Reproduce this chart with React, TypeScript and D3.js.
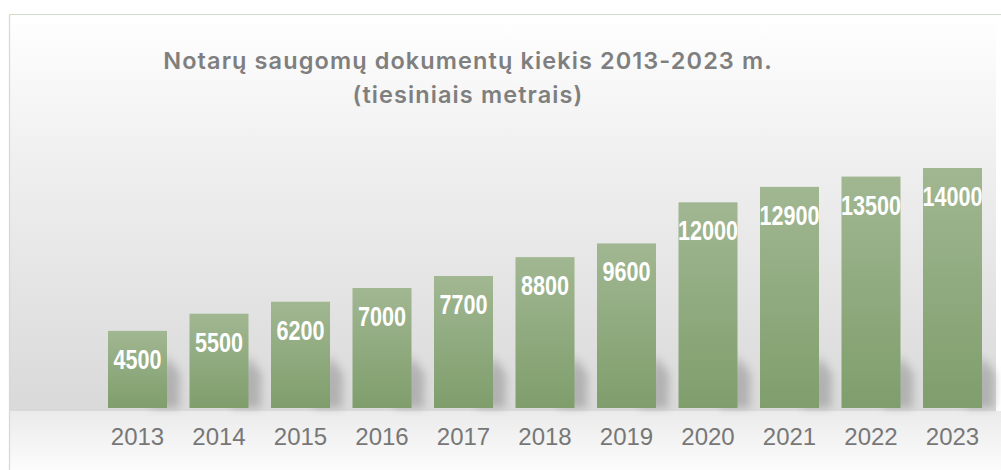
import React from "react";
import * as d3 from "d3";

const years = ["2013", "2014", "2015", "2016", "2017", "2018", "2019", "2020", "2021", "2022", "2023"];
const values = [4500, 5500, 6200, 7000, 7700, 8800, 9600, 12000, 12900, 13500, 14000];
const titleLines = ["Notarų saugomų dokumentų kiekis 2013-2023 m.", "(tiesiniais metrais)"];

const W = 1001;
const H = 470;

export default function App() {
  const x = d3.scaleBand<string>().domain(years).range([85.5, 1004.5]).padding(0.276);
  const y = d3.scaleLinear().domain([0, 14000]).range([408, 168]);
  const bw = x.bandwidth();
  const y0 = y(0);

  return (
    <svg width={W} height={H} style={{ position: "absolute", left: 0, top: 0 }}>
      <defs>
        <linearGradient id="bg" x1="0" y1="0" x2="0" y2="1">
          <stop offset="0" stopColor="#ffffff" />
          <stop offset="0.35" stopColor="#f0f0f0" />
          <stop offset="1" stopColor="#d9d9d9" />
        </linearGradient>
        <linearGradient id="floor" x1="0" y1="0" x2="0" y2="1">
          <stop offset="0" stopColor="#ebebeb" />
          <stop offset="1" stopColor="#fcfcfc" />
        </linearGradient>
        <linearGradient id="bar" x1="0" y1="0" x2="0" y2="1">
          <stop offset="0" stopColor="#a1b792" />
          <stop offset="1" stopColor="#7f9e6c" />
        </linearGradient>
        <filter id="blur" x="-50%" y="-50%" width="200%" height="200%">
          <feGaussianBlur stdDeviation="4" />
        </filter>
      </defs>
      <rect x={0} y={0} width={W} height={H} fill="#ffffff" />
      <rect x={10} y={15} width={986} height={y0 + 3 - 15} fill="url(#bg)" />
      <rect x={10} y={y0 + 3} width={991} height={H - y0 - 3} fill="url(#floor)" />
      <line x1={9.5} y1={14.5} x2={W} y2={14.5} stroke="#d3dbc9" strokeWidth={1.2} />
      <line x1={9.5} y1={14.5} x2={9.5} y2={H} stroke="#d3dbc9" strokeWidth={1.2} />

      <g fill="#7f7f7f" fontFamily="Inter, 'Noto Sans', sans-serif" fontWeight={600} fontSize={23.5} letterSpacing={1.1} textAnchor="middle">
        <text x={468} y={68.5}>{titleLines[0]}</text>
        <text x={468} y={103}>{titleLines[1]}</text>
      </g>

      <g filter="url(#blur)" fill="#808080" opacity={0.45}>
        {years.map((yr) => {
          const bx = x(yr)!;
          const pts = [
            [bx + bw * 0.7, y0],
            [bx + bw, y0 - 52],
            [bx + bw + 13, y0 - 34],
            [bx + bw + 12, y0],
          ];
          return <polygon key={yr} points={pts.map((p) => p.join(",")).join(" ")} />;
        })}
      </g>

      {years.map((yr, i) => (
        <rect key={yr} x={x(yr)} y={y(values[i])} width={bw} height={y0 - y(values[i])} fill="url(#bar)" />
      ))}

      <g fill="#ffffff" fontFamily="'Liberation Sans', Arial, sans-serif" fontWeight={700} fontSize={27} textAnchor="middle">
        {years.map((yr, i) => (
          <text key={yr} transform={`translate(${x(yr)! + bw / 2},${y(values[i]) + 38}) scale(0.8,1)`}>
            {values[i]}
          </text>
        ))}
      </g>

      <g fill="#777777" fontFamily="'Liberation Sans', Arial, sans-serif" fontSize={24} textAnchor="middle">
        {years.map((yr) => (
          <text key={yr} x={x(yr)! + bw / 2} y={445}>
            {yr}
          </text>
        ))}
      </g>
    </svg>
  );
}
